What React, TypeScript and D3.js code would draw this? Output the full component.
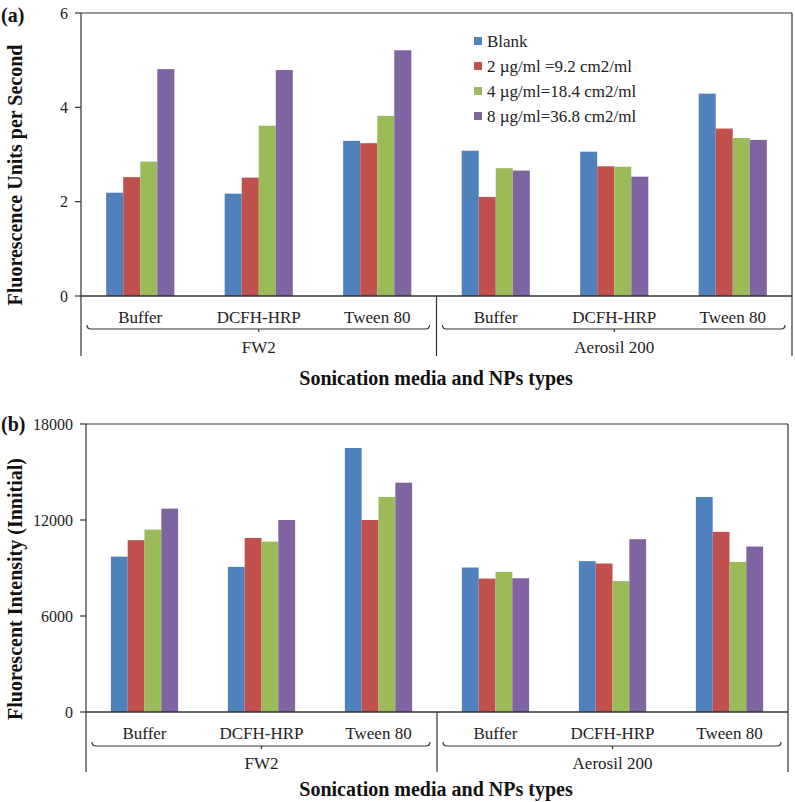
import React from "react";
import * as d3 from "d3";

const categories = ["Buffer", "DCFH-HRP", "Tween 80", "Buffer", "DCFH-HRP", "Tween 80"];
const groups = [
  { name: "FW2", from: 0, to: 2 },
  { name: "Aerosil 200", from: 3, to: 5 },
];
const seriesNames = ["Blank", "2 µg/ml =9.2 cm2/ml", "4 µg/ml=18.4 cm2/ml", "8 µg/ml=36.8 cm2/ml"];
const seriesColors = ["#4F81BD", "#C0504D", "#9BBB59", "#8064A2"];

// Panel (a): fluorescence units per second, [category][series]
const valuesA = [
  [2.19, 2.52, 2.85, 4.81],
  [2.17, 2.51, 3.61, 4.79],
  [3.29, 3.24, 3.82, 5.21],
  [3.08, 2.1, 2.71, 2.66],
  [3.06, 2.75, 2.74, 2.53],
  [4.29, 3.55, 3.35, 3.31],
];
const ticksA = [0, 2, 4, 6];

// Panel (b): fluorescent intensity (initial)
const valuesB = [
  [9710, 10740, 11400, 12710],
  [9070, 10880, 10650, 12000],
  [16500, 12000, 13440, 14330],
  [9030, 8340, 8760, 8360],
  [9430, 9280, 8180, 10800],
  [13440, 11260, 9380, 10340],
];
const ticksB = [0, 6000, 12000, 18000];

const serif = "'Liberation Serif', 'Times New Roman', serif";
const lineColor = "#333";

type PanelProps = {
  values: number[][];
  ticks: number[];
  left: number;
  right: number;
  top: number;
  zero: number;
  bottom: number;
  yTitle: string;
  yTitleY: number;
  xTitleBaseline: number;
  tag: string;
  tagY: number;
  legend?: boolean;
  bracketY: number;
};

function Panel(p: PanelProps) {
  const x = d3
    .scaleBand<number>()
    .domain(d3.range(categories.length))
    .range([p.left, p.right])
    .paddingInner(0.425)
    .paddingOuter(0.2125);
  const x1 = d3.scaleBand<number>().domain(d3.range(seriesNames.length)).range([0, x.bandwidth()]);
  const maxT = p.ticks[p.ticks.length - 1];
  const y = d3.scaleLinear().domain([0, maxT]).range([p.zero, p.top]);
  const step = x.step();
  const catEdge = (i: number) => p.left + step * i;
  const fmt = d3.format("d");

  return (
    <g>
      {/* plot border lines */}
      <line x1={p.left} x2={p.right} y1={p.top} y2={p.top} stroke={lineColor} strokeWidth={1.2} />
      <line x1={p.right} x2={p.right} y1={p.top} y2={p.bottom} stroke={lineColor} strokeWidth={1.2} />
      <line x1={p.left} x2={p.left} y1={p.top} y2={p.bottom} stroke={lineColor} strokeWidth={1.2} />
      {/* bars */}
      {p.values.map((row, ci) =>
        row.map((v, si) => (
          <rect
            key={`${ci}-${si}`}
            x={(x(ci) as number) + (x1(si) as number)}
            y={y(v)}
            width={x1.bandwidth()}
            height={p.zero - y(v)}
            fill={seriesColors[si]}
          />
        ))
      )}
      <line x1={p.left} x2={p.right} y1={p.zero} y2={p.zero} stroke={lineColor} strokeWidth={1.4} />
      {/* y ticks */}
      {p.ticks.map((t) => (
        <g key={t}>
          <line x1={p.left - 6} x2={p.left} y1={y(t)} y2={y(t)} stroke={lineColor} strokeWidth={1.2} />
          <text
            x={p.left - 13}
            y={y(t)}
            dy="0.35em"
            textAnchor="end"
            fontFamily={serif}
            fontSize={16}
            fill="#222"
          >
            {fmt(t)}
          </text>
        </g>
      ))}
      {/* category labels */}
      {categories.map((c, i) => (
        <text
          key={i}
          x={(x(i) as number) + x.bandwidth() / 2}
          y={p.zero + 21}
          dy="0.35em"
          textAnchor="middle"
          fontFamily={serif}
          fontSize={17}
          fill="#222"
        >
          {c}
        </text>
      ))}
      {/* group dividers and brackets */}
      {groups.map((g, gi) => {
        const gx0 = catEdge(g.from);
        const gx1 = catEdge(g.to + 1);
        const bx0 = gx0 + 6;
        const bx1 = gx1 - 7;
        const by = p.bracketY;
        const mid = (gx0 + gx1) / 2;
        return (
          <g key={gi}>
            {gi > 0 && (
              <line x1={gx0} x2={gx0} y1={p.zero} y2={p.bottom} stroke={lineColor} strokeWidth={1.2} />
            )}
            <path
              d={`M${bx0},${by - 4} Q${bx0},${by} ${bx0 + 4},${by} L${bx1 - 4},${by} Q${bx1},${by} ${bx1},${by - 4} M${mid},${by} L${mid},${by + 3}`}
              fill="none"
              stroke={lineColor}
              strokeWidth={1.2}
            />
            <text
              x={mid}
              y={p.zero + 51}
              dy="0.35em"
              textAnchor="middle"
              fontFamily={serif}
              fontSize={17}
              fill="#222"
            >
              {g.name}
            </text>
          </g>
        );
      })}
      {/* x title */}
      <text
        x={436}
        y={p.xTitleBaseline}
        textAnchor="middle"
        fontFamily={serif}
        fontSize={20}
        fontWeight="bold"
        fill="#111"
      >
        Sonication media and NPs types
      </text>
      {/* y title */}
      <text
        transform={`translate(14.5,${p.yTitleY}) rotate(-90)`}
        dy="0.35em"
        textAnchor="middle"
        fontFamily={serif}
        fontSize={20}
        fontWeight="bold"
        fill="#111"
      >
        {p.yTitle}
      </text>
      {/* panel tag */}
      <text x={1} y={p.tagY} fontFamily={serif} fontSize={20} fontWeight="bold" fill="#111">
        {p.tag}
      </text>
      {p.legend &&
        seriesNames.map((s, i) => (
          <g key={s} transform={`translate(474,${41 + i * 25})`}>
            <rect x={0} y={-4} width={8} height={8} fill={seriesColors[i]} />
            <text x={13} y={0} dy="0.35em" fontFamily={serif} fontSize={17} fill="#222">
              {s}
            </text>
          </g>
        ))}
    </g>
  );
}

export default function App() {
  return (
    <svg
      width={795}
      height={802}
      style={{ position: "absolute", left: 0, top: 0, display: "block", background: "#fff" }}
    >
      <rect width={795} height={802} fill="#fff" />
      <Panel
        values={valuesA}
        ticks={ticksA}
        left={81}
        right={792}
        top={13}
        zero={296}
        bottom={356}
        yTitle="Fluorescence Units per Second"
        yTitleY={175}
        xTitleBaseline={384.5}
        tag="(a)"
        tagY={22}
        legend
        bracketY={329}
      />
      <Panel
        values={valuesB}
        ticks={ticksB}
        left={86}
        right={788}
        top={424}
        zero={712}
        bottom={772}
        yTitle="Fluorescent Intensity (Innitial)"
        yTitleY={589}
        xTitleBaseline={796}
        tag="(b)"
        tagY={431}
        bracketY={746}
      />
    </svg>
  );
}
